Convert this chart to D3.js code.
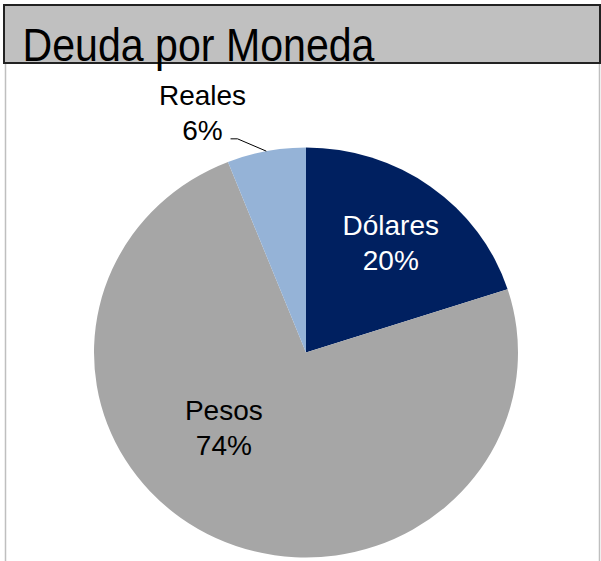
<!DOCTYPE html>
<html>
<head>
<meta charset="utf-8">
<script src="https://cdn.jsdelivr.net/npm/d3@7"></script>
<style>
  html, body { margin: 0; padding: 0; background: #ffffff; }
  svg { display: block; }
</style>
</head>
<body>
<svg id="chart"></svg>
<script>
var categories = ["Dólares", "Pesos", "Reales"];
var shares = [20, 74, 6];
var sliceColours = ["#002060", "#a6a6a6", "#95b3d7"];
var labelColours = ["#ffffff", "#000000", "#000000"];

var width = 601, height = 561;

// label layout: radius factor and a nudge from that centroid, per slice
var LABEL_LAYOUT = [
  { r: 0.6, dx: 10, dy: -10 },
  { r: 0.6, dx: -28, dy: -36 },
  { r: 1.22, dx: -55, dy: 6 }
];

var svg = d3.select("#chart")
  .attr("width", width)
  .attr("height", height);

// light frame of the plot area under the title bar
svg.append("line")
  .attr("x1", 5.5).attr("y1", 63)
  .attr("x2", 5.5).attr("y2", height)
  .attr("stroke", "#bfbfbf")
  .attr("stroke-width", 1.5);

svg.append("line")
  .attr("x1", 599.5).attr("y1", 63)
  .attr("x2", 599.5).attr("y2", height)
  .attr("stroke", "#bfbfbf")
  .attr("stroke-width", 1.5);

// pie, slightly wider than tall like the original
var cx = 306, cy = 352.5;
var radius = 205;
var stretchX = 212 / 205;

var pie = d3.pie()
  .sort(null)
  .value(function(d) { return d; });

var arcs = pie(shares);

var arc = d3.arc()
  .innerRadius(0)
  .outerRadius(radius);

var pieGroup = svg.append("g")
  .attr("transform", "translate(" + cx + "," + cy + ") scale(" + stretchX + ",1)");

pieGroup.selectAll(".slice")
  .data(arcs)
  .enter()
  .append("path")
  .attr("class", "slice")
  .attr("d", arc)
  .attr("fill", function(d, i) { return sliceColours[i]; });

var labelLayer = svg.append("g");

arcs.forEach(function(d, i) {
  var lay = LABEL_LAYOUT[i];
  var outside = lay.r > 1;
  var pos = d3.arc()
    .innerRadius(radius * lay.r)
    .outerRadius(radius * lay.r)
    .centroid(d);
  var x = cx + pos[0] * stretchX + lay.dx;
  var y = cy + pos[1] + lay.dy;

  var text = labelLayer.append("text")
    .attr("x", x)
    .attr("y", y)
    .attr("text-anchor", "middle")
    .attr("font-family", "Liberation Sans, Arial, sans-serif")
    .attr("font-size", "28px")
    .attr("fill", labelColours[i]);

  text.append("tspan")
    .attr("x", x)
    .attr("dy", -7.5)
    .text(categories[i]);

  text.append("tspan")
    .attr("x", x)
    .attr("dy", 34.5)
    .text(Math.round(shares[i]) + "%");

  if (outside) {
    // leader line from the percent text to the slice edge
    var edge = d3.arc().innerRadius(radius).outerRadius(radius).centroid(d);
    var ex = cx + edge[0] * stretchX;
    var ey = cy + edge[1];
    var sx = x + 28, sy = y + 26;
    svg.append("path")
      .attr("d", "M" + sx + "," + sy + "L" + (sx + 7) + "," + sy + "L" + ex + "," + ey)
      .attr("fill", "none")
      .attr("stroke", "#000000")
      .attr("stroke-width", 1);
  }
});

// title bar
svg.append("rect")
  .attr("x", 4)
  .attr("y", 5)
  .attr("width", 596)
  .attr("height", 58)
  .attr("fill", "#c0c0c0")
  .attr("stroke", "#222222")
  .attr("stroke-width", 2);

svg.append("text")
  .attr("x", 22.5)
  .attr("y", 61)
  .attr("font-family", "Liberation Sans, Arial, sans-serif")
  .attr("font-size", "46px")
  .attr("textLength", 352)
  .attr("lengthAdjust", "spacingAndGlyphs")
  .attr("fill", "#000000")
  .text("Deuda por Moneda");
</script>
</body>
</html>
